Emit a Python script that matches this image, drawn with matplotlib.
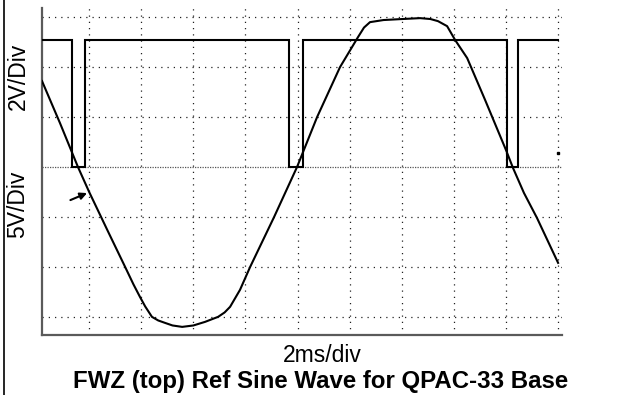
import matplotlib
matplotlib.use("Agg")
import matplotlib.pyplot as plt
from matplotlib.lines import Line2D

plt.rcParams['font.family'] = ['Liberation Sans', 'DejaVu Sans']

# ---- data (time in ms, 2 ms/div) ----
# Reference sine (5 V/div), clipped top and bottom
sine_t = [0.19, 0.88, 1.57, 2.00, 2.70, 3.38, 3.70, 3.95, 4.15, 4.41, 4.65, 4.91,
          5.20, 5.57, 6.00, 6.45, 6.95, 7.20, 7.41, 7.79, 8.18, 9.10, 9.98, 10.75,
          11.63, 12.32, 12.55, 12.78, 13.30, 13.94, 14.70, 15.10, 15.39, 15.74,
          16.05, 16.51, 17.20, 18.00, 18.27, 18.69, 19.19, 20.00]
sine_v = [8.57, 4.38, 0.00, -2.49, -6.30, -9.96, -11.70, -12.95, -13.90, -14.94,
          -15.30, -15.54, -15.80, -15.94, -15.80, -15.44, -14.94, -14.50, -13.94,
          -12.25, -9.96, -4.98, 0.00, 4.98, 9.96, 12.95, 13.90, 14.44, 14.65, 14.74,
          14.84, 14.75, 14.54, 14.04, 12.65, 10.86, 6.67, 1.69, -0.10, -2.59,
          -5.08, -9.56]

# FWZ square pulse (2 V/div)
fwz_t = [0.19, 1.34, 1.34, 1.84, 1.84, 9.67, 9.67, 10.21, 10.21, 18.04, 18.04,
         18.46, 18.46, 20.00]
fwz_v = [5.06, 5.06, 0.00, 0.00, 5.06, 5.06, 0.00, 0.00, 5.06, 5.06, 0.00,
         0.00, 5.06, 5.06]

SINE_V_PER_DIV = 5.0
FWZ_V_PER_DIV = 2.0

x_grid = [2, 4, 6, 8, 10, 12, 14, 16, 18, 20]
y_grid = [-3, -2, -1, 1, 2, 3]

fig = plt.figure(figsize=(6.33, 3.95), dpi=100)
W, H = 633, 395
ax = fig.add_axes([42 / W, 1 - 335 / H, (562 - 42) / W, (335 - 8) / H])

ax.set_xlim(0.19, 20.15)
ax.set_ylim(-3.35, 3.17)

for gx in x_grid:
    ax.axvline(gx, color='#222222', lw=0.9, ls=(0, (1, 4)), zorder=1)
for gy in y_grid:
    ax.axhline(gy, color='#222222', lw=0.9, ls=(0, (1, 4)), zorder=1)
ax.axhline(0, color='#555555', lw=0.9, ls=(0, (1, 1)), zorder=1)

ax.plot(fwz_t, [v / FWZ_V_PER_DIV for v in fwz_v], color='black', lw=1.5, zorder=3,
        solid_joinstyle='miter')
ax.plot(sine_t, [v / SINE_V_PER_DIV for v in sine_v], color='black', lw=1.5, zorder=3,
        solid_joinstyle='round')

# small marker on right edge
ax.plot([20.0], [0.28], marker='s', ms=1.8, color='black', zorder=3)

ax.annotate('', xy=(1.92, -0.52), xytext=(1.28, -0.66),
            arrowprops=dict(arrowstyle='-|>', color='black', lw=1.5,
                            mutation_scale=10, shrinkA=0, shrinkB=0))

ax.set_xticks([])
ax.set_yticks([])
for s in ['top', 'right']:
    ax.spines[s].set_visible(False)
for s in ['left', 'bottom']:
    ax.spines[s].set_color('#5a5a5a')
    ax.spines[s].set_linewidth(1.6)

fig.add_artist(Line2D([3.5 / W, 3.5 / W], [0, 1], color='black', lw=1.2))

fig.text(18 / W, 1 - 76 / H, '2V/Div', rotation=90, ha='center', va='center',
         fontsize=16.5)
fig.text(18 / W, 1 - 204 / H, '5V/Div', rotation=90, ha='center', va='center',
         fontsize=16.5)
fig.text(322 / W, 1 - 362 / H, '2ms/div', ha='center', va='baseline', fontsize=16.5)
fig.text(320.5 / W, 1 - 388 / H, 'FWZ (top) Ref Sine Wave for QPAC-33 Base',
         ha='center', va='baseline', fontsize=17.3, fontweight='bold')

fig.savefig('out.png', dpi=100)
